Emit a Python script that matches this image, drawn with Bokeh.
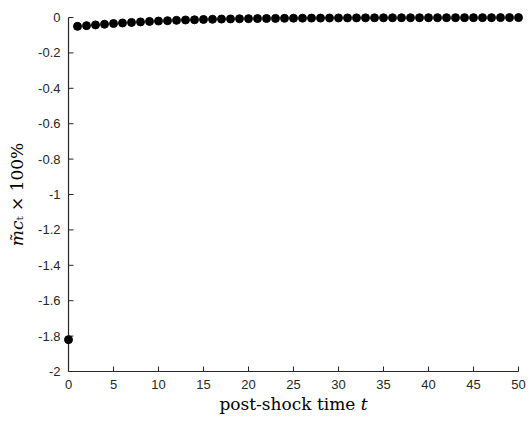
import math
from bokeh.plotting import figure
from bokeh.models import FixedTicker, Range1d
from bokeh.embed import file_html
from bokeh.resources import INLINE

t = list(range(51))
mc = [-1.82, -0.050, -0.046, -0.042, -0.038, -0.034, -0.031, -0.028, -0.025, -0.022,
      -0.020, -0.018, -0.016, -0.014, -0.013, -0.011, -0.010, -0.009, -0.008, -0.007,
      -0.0065, -0.006, -0.0055, -0.005, -0.0045, -0.004, -0.0037, -0.0034, -0.0031, -0.0028,
      -0.0026, -0.0024, -0.0022, -0.002, -0.0018, -0.0017, -0.0016, -0.0015, -0.0014, -0.0013,
      -0.0012, -0.0011, -0.001, -0.001, -0.0009, -0.0009, -0.0008, -0.0008, -0.0007, -0.0007,
      -0.0006]

x_ticks = [0, 5, 10, 15, 20, 25, 30, 35, 40, 45, 50]
y_ticks = [-2, -1.8, -1.6, -1.4, -1.2, -1, -0.8, -0.6, -0.4, -0.2, 0]
y_tick_labels = ["-2", "-1.8", "-1.6", "-1.4", "-1.2", "-1", "-0.8", "-0.6", "-0.4", "-0.2", "0"]

# frame padded by 6 px on every side so the round markers are not clipped
px_x = 450 / 50.0
px_y = 354 / 2.0
pad = 6
x0, x1 = x_ticks[0] - pad / px_x, x_ticks[-1] + pad / px_x
y0, y1 = y_ticks[0] - pad / px_y, y_ticks[-1] + pad / px_y

p = figure(output_backend="svg", toolbar_location=None,
           frame_width=450 + 2 * pad, frame_height=354 + 2 * pad,
           min_border_left=68 - pad, min_border_right=13 - pad,
           min_border_top=17 - pad, min_border_bottom=50 - pad,
           x_range=Range1d(x0, x1), y_range=Range1d(y0, y1))
p.width = 531
p.height = 421
p.outline_line_color = "white"
p.xgrid.visible = False
p.ygrid.visible = False
p.background_fill_color = "white"
p.border_fill_color = "white"

ink = "#262626"

# axis lines through the data origin (first x tick, first y tick)
p.segment(x0=[x_ticks[0], x_ticks[0]], y0=[y_ticks[0], y_ticks[0]],
          x1=[x_ticks[-1], x_ticks[0]], y1=[y_ticks[0], y_ticks[-1]],
          line_color=ink, line_width=1.2)
# inward tick marks, 5 px long
p.ray(x=x_ticks, y=[y_ticks[0]] * len(x_ticks), length=5, length_units="screen",
      angle=math.pi / 2, line_color=ink, line_width=1)
p.ray(x=[x_ticks[0]] * len(y_ticks), y=y_ticks, length=5, length_units="screen",
      angle=0, line_color=ink, line_width=1)

p.scatter(t, mc, size=8, color="black", marker="circle")

# axes at the frame edges carry only the texts; their own line and ticks are white
for ax in (p.xaxis[0], p.yaxis[0]):
    ax.axis_line_color = "white"
    ax.axis_line_width = 1
    ax.major_tick_line_color = "white"
    ax.major_tick_in = 1
    ax.major_tick_out = 0
    ax.minor_tick_in = 0
    ax.minor_tick_out = 0
    ax.major_label_text_font = "Liberation Sans"
    ax.major_label_text_font_size = "13px"
    ax.major_label_text_color = ink
    ax.axis_label_text_font = "DejaVu Serif"
    ax.axis_label_text_font_style = "normal"
    ax.axis_label_text_font_size = "17px"
    ax.axis_label_text_color = "black"

p.xaxis[0].ticker = FixedTicker(ticks=x_ticks)
p.yaxis[0].ticker = FixedTicker(ticks=y_ticks)
p.yaxis[0].major_label_overrides = {v: s for v, s in zip(y_ticks, y_tick_labels)}
p.xaxis[0].major_label_standoff = 2
p.yaxis[0].major_label_standoff = 2
p.xaxis[0].axis_label = "post-shock time 𝑡"
p.yaxis[0].axis_label = "𝑚̃𝑐ₜ × 100%"
p.xaxis[0].axis_label_standoff = 2
p.yaxis[0].axis_label_standoff = 8

open("out.html", "w").write(file_html(p, INLINE))
